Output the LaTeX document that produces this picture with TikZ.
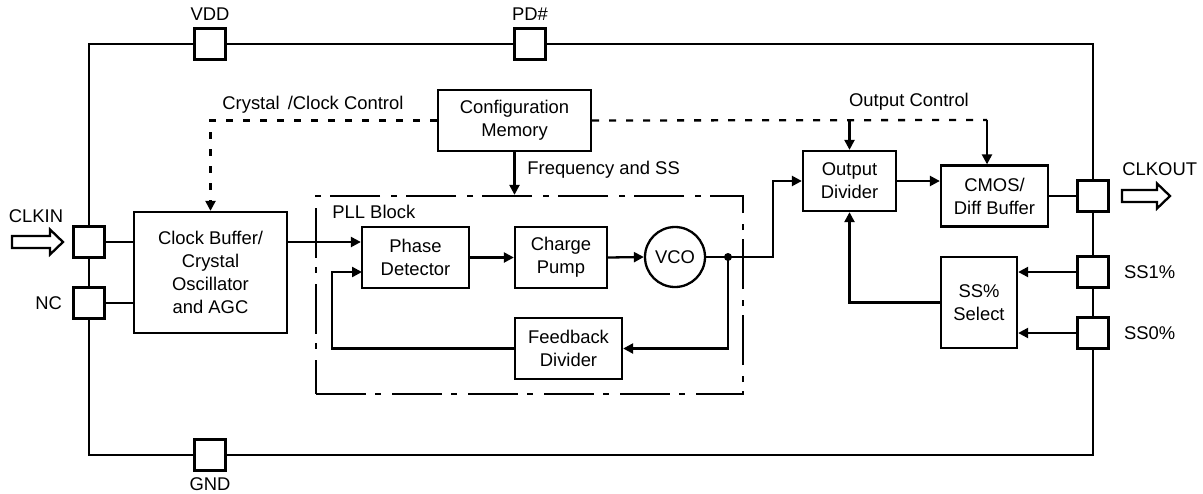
\documentclass[tikz,border=0pt]{standalone}
\usepackage{fontspec}
\setmainfont{Liberation Sans}
\usetikzlibrary{arrows.meta,positioning}
\newcommand{\chipfont}{\fontsize{9.2pt}{11.5pt}\selectfont}
\tikzset{
  blk/.style={rectangle,draw,line width=1.15pt,fill=white,align=center,inner sep=1pt,font=\chipfont},
  pin/.style={rectangle,draw,line width=1.15pt,fill=white,minimum size=15.5pt,inner sep=0pt},
  lbl/.style={inner sep=0pt,font=\chipfont},
  wire/.style={line width=1.15pt},
  arr/.style={wire,-{Triangle[length=5pt,width=5pt]}},
  ctrl/.style={wire,dash pattern=on 3.5pt off 5pt},
  pllbox/.style={rectangle,draw,line width=1.15pt,dash pattern=on 25pt off 4.5pt on 3pt off 5.5pt,
                 minimum width=213.5pt,minimum height=99pt},
  hollow/.style={line width=1.15pt,fill=white,line join=miter},
}

\begin{document}
\begin{tikzpicture}[x=0.5pt,y=-0.5pt]
  \useasboundingbox (0,0) rectangle (1203,493);

  % chip outline and pins
  \node[rectangle,draw,line width=1.15pt,minimum width=502pt,minimum height=205.5pt] (chip) at (591,249.5) {};
  \node[pin] (vdd)    at (210,44)   {};
  \node[pin] (pd)     at (530,44)   {};
  \node[pin] (gnd)    at (210,455)  {};
  \node[pin] (clkin)  at (89,242)   {};
  \node[pin] (nc)     at (89,303)   {};
  \node[pin] (clkout) at (1093,196) {};
  \node[pin] (ss1)    at (1093,272) {};
  \node[pin] (ss0)    at (1093,333) {};

  \node[lbl, above=3pt of vdd] {VDD};
  \node[lbl, above=3pt of pd]  {PD\#};
  \node[lbl, below=3pt of gnd] {GND};
  \node[lbl, left=5pt of nc]   {NC};
  \node[lbl, right=7pt of ss1] {SS1\%};
  \node[lbl, right=7pt of ss0] {SS0\%};
  \node[lbl] at (36,216) {CLKIN};
  \node[lbl, anchor=west] at (1122,169) {CLKOUT};

  % in/out arrows
  \draw[hollow] (12,236) -- ++(38,0) -- ++(0,-6.5) -- ++(13,12.5) -- ++(-13,12.5) -- ++(0,-6.5) -- ++(-38,0) -- cycle;
  \draw[hollow] (1122,190) -- ++(35,0) -- ++(0,-6.5) -- ++(13,12.5) -- ++(-13,12.5) -- ++(0,-6.5) -- ++(-35,0) -- cycle;

  % blocks
  \node[pllbox] (pll) at (529.5,295) {};
  \node[lbl, anchor=west] at (332,212) {PLL Block};
  \node[blk, minimum width=76.5pt, minimum height=60.5pt] (clkbuf) at (210.5,272.5) {Clock Buffer/\\Crystal\\Oscillator\\and AGC};
  \node[blk, minimum width=76.5pt, minimum height=30.5pt] (config) at (514.5,120.5) {Configuration\\Memory};
  \node[blk, minimum width=53.5pt, minimum height=30.5pt] (phase)  at (415.5,257.5) {Phase\\Detector};
  \node[blk, minimum width=46pt,   minimum height=30.5pt] (pump)   at (561,257.5)   {Charge\\Pump};
  \node[blk, circle, minimum size=30pt, inner sep=0pt]     (vco)    at (675,257)     {VCO};
  \node[blk, minimum width=53.5pt, minimum height=30.5pt] (fbdiv)  at (568.5,348.5) {Feedback\\Divider};
  \node[blk, minimum width=46.5pt, minimum height=30pt]   (outdiv) at (849.5,181)   {Output\\Divider};
  \node[blk, minimum width=53.5pt, minimum height=30.5pt] (cmos)   at (994.5,196)   {CMOS/\\Diff Buffer};
  \node[blk, minimum width=38pt,   minimum height=45.5pt] (ssel)   at (979,302.5)   {SS\%\\Select};

  \coordinate (tap)  at (728,257);
  \coordinate (pdfb) at (362,272);
  \coordinate (octl) at (987,120);

  % control lines
  \draw[ctrl,arr] (config.west) -| (clkbuf.north);
  \draw[ctrl] (config.east) -- (octl);
  \draw[arr] (outdiv.north |- octl) -- (outdiv.north);
  \draw[arr] (octl) -- (octl |- cmos.north);
  \draw[arr] (config.south) -- (config.south |- pll.north);
  \node[lbl, anchor=west] at (222,105) {Crystal\ \,/Clock Control};
  \node[lbl] at (909,102) {Output Control};
  \node[lbl, anchor=west] at (527,170) {Frequency and SS};

  % signal path
  \draw[wire] (clkin.east) -- (clkin.east -| clkbuf.west);
  \draw[wire] (nc.east) -- (nc.east -| clkbuf.west);
  \draw[arr] (clkin.east -| clkbuf.east) -- (clkin.east -| phase.west);
  \draw[arr] (phase.east) -- (pump.west);
  \draw[arr] (pump.east) -- (vco.west);
  \draw[arr] (vco.east) -| (773,181) -- (outdiv.west);
  \fill (tap) circle (2pt);
  \draw[arr] (tap) |- (fbdiv.east);
  \draw[arr] (fbdiv.west) -| (332,272) -- (pdfb);
  \draw[arr] (outdiv.east) -- (outdiv.east -| cmos.west);
  \draw[wire] (cmos.east) -- (clkout.west);
  \draw[arr] (ss1.west) -- (ss1.west -| ssel.east);
  \draw[arr] (ss0.west) -- (ss0.west -| ssel.east);
  \draw[arr] (ssel.west) -| (outdiv.south);
\end{tikzpicture}
\end{document}
